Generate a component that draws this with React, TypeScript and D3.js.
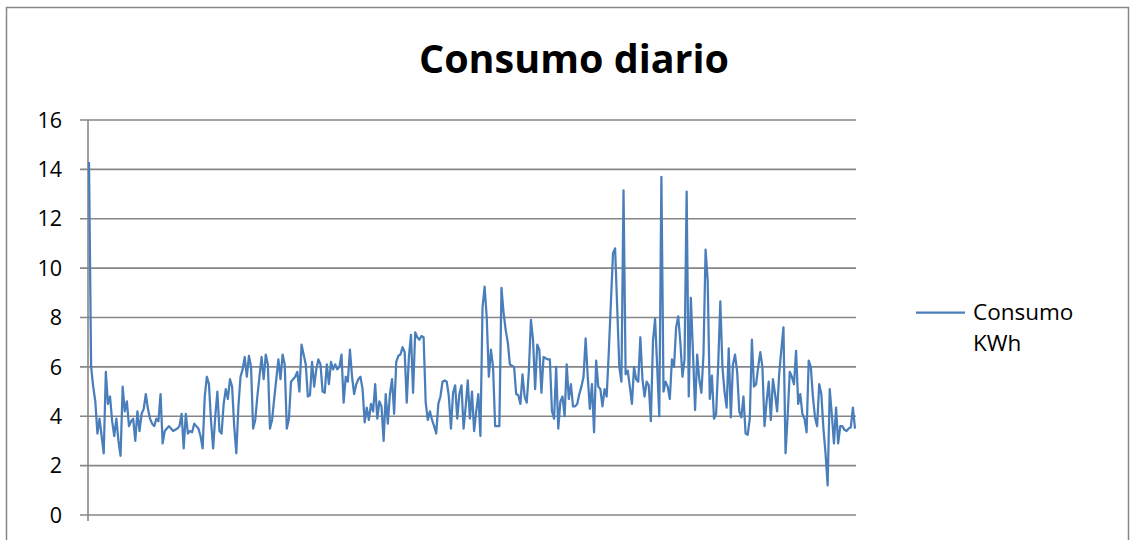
import React from "react";
import * as d3 from "d3";

const title = "Consumo diario";
const seriesName = ["Consumo", "KWh"];
const yTicks = [0, 2, 4, 6, 8, 10, 12, 14, 16];

// Daily consumption (KWh), left to right
const consumo: number[] = [
  14.3, 6.0, 5.2, 4.6, 3.3, 3.9, 3.2, 2.5, 5.8, 4.5, 4.8, 3.8, 3.2, 3.9, 3.0, 2.4, 5.2, 4.2, 4.6, 3.6,
  3.8, 3.9, 3.0, 4.2, 3.4, 4.1, 4.3, 4.9, 4.3, 3.9, 3.7, 3.6, 3.9, 3.8, 4.9, 2.9,
  3.4, 3.5, 3.6, 3.5, 3.4, 3.45, 3.5, 3.6, 4.1, 2.7, 4.1, 3.3, 3.4, 3.35, 3.7, 3.6, 3.5, 3.2, 2.7, 4.8,
  5.6, 5.3, 3.8, 2.7, 4.0, 5.0, 3.4, 3.3, 4.5, 5.1, 4.7, 5.5, 5.2, 3.6, 2.5, 4.4, 5.6, 5.9,
  6.4, 5.6, 6.45, 6.0, 3.5, 3.85, 4.8, 5.6, 6.4, 5.5, 6.5, 6.1, 3.5, 3.85, 4.7, 5.5, 6.3, 5.5, 6.5, 6.1,
  3.5, 3.9, 5.4, 5.5, 5.6, 5.8, 5.0, 6.9, 6.5, 6.1, 4.8, 4.85, 6.2, 5.2, 5.9, 6.3, 6.1,
  5.0, 4.95, 6.1, 5.3, 6.2, 5.9, 6.1, 5.9, 6.0, 6.5, 4.55, 5.6, 5.4, 6.7, 5.6, 4.9, 5.3, 5.5, 5.6, 5.1,
  3.75, 4.35, 3.85, 4.5, 4.2, 5.3, 3.9, 4.6, 4.4, 3.0, 4.9, 3.7, 4.9, 5.5, 4.1, 6.2, 6.45,
  6.5, 6.8, 6.6, 4.55, 6.4, 7.3, 4.95, 7.4, 7.2, 7.1, 7.25, 7.2, 4.55, 3.85, 4.2, 3.85, 3.6, 3.3, 4.5,
  4.8, 5.4, 5.45, 5.4, 4.8, 3.5, 4.95, 5.25, 3.9, 4.9, 5.25, 3.5, 4.4, 5.45, 3.9, 5.0, 3.4,
  4.2, 4.9, 3.2, 8.4, 9.25, 8.0, 5.6, 6.7, 6.0, 3.6, 3.6, 3.6, 9.2, 8.2, 7.5, 7.0, 6.1, 6.05, 6.0, 4.9,
  4.85, 4.5, 5.7, 4.8, 4.55, 5.8, 7.9, 7.1, 5.1, 6.9, 6.7, 4.95, 6.4, 6.35, 6.3, 6.3, 4.2, 3.9,
  6.0, 3.5, 4.6, 4.8, 4.0, 6.1, 4.7, 5.3, 4.4, 4.4, 4.5, 4.9, 5.2, 5.6, 7.15, 5.6, 4.3, 5.3, 3.35, 6.25,
  5.2, 5.1, 4.4, 5.1, 4.8, 6.6, 8.6, 10.6, 10.8, 8.4, 6.0, 5.4, 13.15, 5.7, 5.85, 5.2, 4.5,
  6.0, 5.5, 5.4, 7.2, 5.5, 4.8, 5.4, 5.25, 3.8, 7.05, 7.95, 6.0, 4.0, 13.7, 5.0, 5.4, 5.2, 4.7, 6.3, 6.0,
  7.6, 8.05, 7.0, 5.6, 6.3, 13.1, 4.8, 8.8, 6.6, 4.25, 6.5, 5.5, 4.95, 6.5, 10.75, 9.5, 4.7,
  5.65, 3.9, 4.1, 6.1, 8.65, 6.0, 5.0, 4.35, 6.75, 3.95, 6.1, 6.5, 5.8, 4.2, 3.95, 4.8, 3.3, 3.25, 3.9,
  7.1, 5.2, 5.3, 6.0, 6.6, 6.0, 3.6, 4.6, 5.4, 3.85, 5.5, 4.9, 4.2, 5.75, 6.7, 7.6, 2.5, 4.0,
  5.8, 5.6, 5.3, 6.65, 4.5, 4.9, 4.1, 3.9, 3.35, 6.25, 6.0, 4.8, 3.95, 3.6, 5.3, 4.9, 3.5, 2.5, 1.2, 5.1,
  4.05, 2.9, 4.35, 2.9, 3.6, 3.6, 3.45, 3.4, 3.5, 3.55, 4.35, 3.5,
];

const W = 1134;
const H = 540;
const FONT = "'Open Sans', 'Liberation Sans', sans-serif";
const GRID = "#868686";
const LINE = "#4A7EBB";

export default function App() {
  const x = d3.scaleLinear().domain([0, consumo.length - 1]).range([89, 855]);
  const y = d3.scaleLinear().domain([0, 16]).range([515, 120]);
  const line = d3
    .line<number>()
    .x((_, i) => x(i))
    .y((d) => y(d));

  return (
    <svg
      width={W}
      height={H}
      style={{ position: "absolute", left: 0, top: 0, background: "#fff" }}
      fontFamily={FONT}
    >
      <rect x={0} y={0} width={W} height={H} fill="#fff" />
      <rect x={6.5} y={7.5} width={1122} height={560} fill="#fff" stroke={GRID} strokeWidth={1.5} />
      <text x={574} y={73} textAnchor="middle" fontSize={39.5} fontWeight="bold" fill="#000">
        {title}
      </text>
      {yTicks.map((t) => (
        <g key={t}>
          <line x1={80} x2={856} y1={y(t)} y2={y(t)} stroke={GRID} strokeWidth={1.6} />
          <text x={62} y={y(t)} dy="0.36em" textAnchor="end" fontSize={21.5} fill="#000">
            {t}
          </text>
        </g>
      ))}
      <line x1={88} x2={88} y1={y(16)} y2={521} stroke={GRID} strokeWidth={1.6} />
      <path d={line(consumo) || ""} fill="none" stroke={LINE} strokeWidth={2.25} strokeLinejoin="round" />
      <line x1={916} x2={965} y1={312.5} y2={312.5} stroke={LINE} strokeWidth={2.25} />
      <text x={973} y={320} fontSize={22.5} fill="#000">
        {seriesName[0]}
      </text>
      <text x={973} y={351} fontSize={22.5} fill="#000">
        {seriesName[1]}
      </text>
    </svg>
  );
}
